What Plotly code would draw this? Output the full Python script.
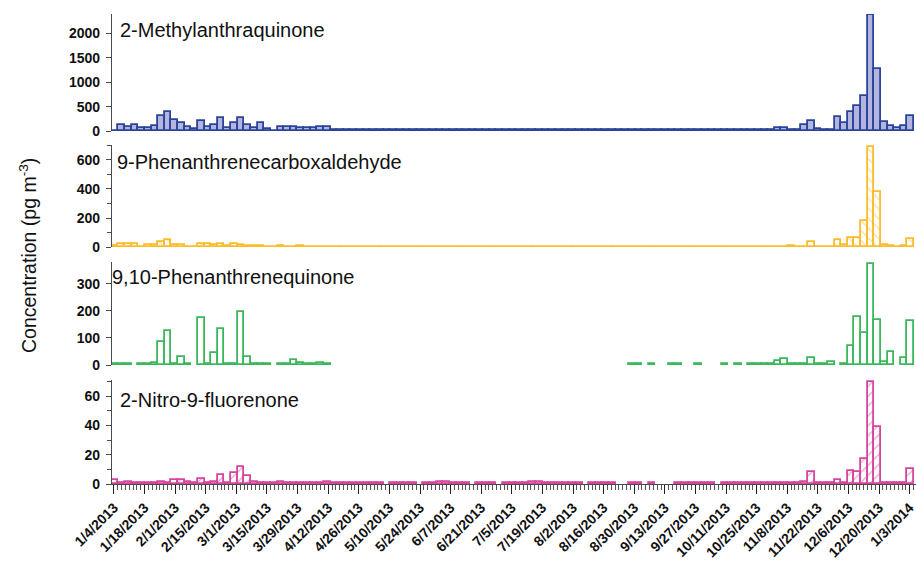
import pandas as pd
import plotly.graph_objects as go
from plotly.subplots import make_subplots

# Filter samples: 121 collections between 1/4/2013 and 1/3/2014
sample_first = "2013-01-04 12:00"
sample_last = "2014-01-03 12:00"
n_samples = 121
dates = pd.date_range(sample_first, sample_last, periods=n_samples)

N = None

# 2-Methylanthraquinone (pg m-3)
maq = [
    10, 130, 89, 130, 60, 60, 100, 308, 390, 226,
    158, 89, 35, 199, 89, 130, 260, 68, 171, 260,
    117, 68, 171, 50, 7, 80, 72, 76, 62, 66,
    62, 75, 82, 15, 15, 15, 15, 15, 15, 15,
    15, 15, 15, 15, 15, 15, 15, 15, 15, 15,
    15, 15, 15, 15, 15, 15, 15, 15, 15, 15,
    15, 15, 15, 15, 15, 15, 15, 15, 15, 15,
    15, 15, 15, 15, 15, 15, 15, 15, 15, 15,
    15, 15, 15, 15, 15, 15, 15, 15, 15, 15,
    15, 15, 15, 15, 15, 15, 15, 15, 15, 15,
    68, 68, 15, 15, 123, 212, 35, 15, 15, 294,
    171, 384, 513, 726, 2382, 1267, 185, 109, 68, 96,
    308,
]

# 9-Phenanthrenecarboxaldehyde (pg m-3)
pca = [
    12, 20, 20, 20, 5, 14, 14, 38, 52, 16,
    14, 3, 3, 20, 20, 14, 25, 9, 25, 14,
    9, 9, 9, 3, 5, 7, 3, 3, 7, 3,
    3, 3, 3, 2, 2, 2, 2, 2, 2, 2,
    2, 2, 2, 2, 2, 2, 2, 2, 2, 2,
    2, 2, 2, 2, 2, 2, 2, 2, 2, 2,
    2, 2, 2, 2, 2, 2, 2, 2, 2, 2,
    2, 2, 2, 2, 2, 2, 2, 2, 2, 2,
    2, 2, 2, 2, 2, 2, 2, 2, 2, 2,
    2, 2, 2, 2, 2, 2, 2, 2, 2, 2,
    2, 2, 6, 2, 3, 38, 2, 2, 2, 50,
    16, 66, 62, 180, 689, 381, 16, 9, 3, 9,
    57,
]

# 9,10-Phenanthrenequinone (pg m-3); None = no measurement
pq = [
    5, 5, 5, N, 5, 5, 8, 84, 126, 5,
    28, 5, N, 175, 5, 46, 133, 5, 5, 195,
    31, 5, 5, 3, N, 3, 3, 19, 6, 3,
    3, 6, 3, N, N, N, N, N, N, N,
    N, N, N, N, N, N, N, N, N, N,
    N, N, N, N, N, N, N, N, N, N,
    N, N, N, N, N, N, N, N, N, N,
    N, N, N, N, N, N, N, N, 2, 2,
    N, 2, N, N, 2, 2, N, N, 2, N,
    N, N, 2, N, 2, N, 2, 2, 2, 2,
    15, 22, 4, 2, 2, 27, 2, 2, 10, N,
    2, 72, 178, 120, 373, 167, 12, 49, N, 27,
    163,
]

# 2-Nitro-9-fluorenone (pg m-3); None = no measurement
nfn = [
    2.9, 0.5, 1.6, 0.5, 0.5, 0.5, 0.5, 1.1, 0.5, 2.7,
    2.7, 1.6, 0.5, 3.4, 0.5, 1.6, 6.2, 0.5, 7.5, 11.6,
    5.7, 1.1, 0.5, 0.5, 0.5, 1.6, 0.5, 0.5, 0.5, 0.5,
    0.5, 0.5, 1.1, 0.5, 0.5, 0.5, 0.5, 0.5, 0.5, 0.5,
    0.5, N, 0.5, 0.5, 0.5, 0.5, N, 0.5, 0.5, 1.3,
    1.3, 0.5, 0.5, 0.5, N, 0.5, 0.5, 0.5, N, 0.5,
    0.5, 0.5, 0.5, 1.3, 1.3, 0.5, 0.5, 0.5, 0.5, 0.5,
    0.5, N, 0.5, 0.5, 0.5, 0.5, N, N, 0.5, 0.5,
    N, 0.5, N, N, N, 0.5, 0.5, 0.5, 0.5, 0.5,
    0.5, N, 0.5, 0.5, 0.5, 0.5, 0.5, 0.5, 0.5, 0.5,
    0.5, 0.5, 0.5, 0.5, 1.6, 8.4, 0.5, 0.5, 0.5, 2.9,
    0.5, 9.1, 7.9, 17.1, 69.6, 38.8, 0.7, 0.5, 0.5, 0.5,
    10.3,
]

compound_names = [
    "2-Methylanthraquinone",
    "9-Phenanthrenecarboxaldehyde",
    "9,10-Phenanthrenequinone",
    "2-Nitro-9-fluorenone",
]

tick_labels = [
    "1/4/2013", "1/18/2013", "2/1/2013", "2/15/2013", "3/1/2013", "3/15/2013",
    "3/29/2013", "4/12/2013", "4/26/2013", "5/10/2013", "5/24/2013", "6/7/2013",
    "6/21/2013", "7/5/2013", "7/19/2013", "8/2/2013", "8/16/2013", "8/30/2013",
    "9/13/2013", "9/27/2013", "10/11/2013", "10/25/2013", "11/8/2013",
    "11/22/2013", "12/6/2013", "12/20/2013", "1/3/2014",
]
tick_dates = pd.to_datetime(tick_labels, format="%m/%d/%Y")

# ---- styling ----
W, H = 916, 561
ML, MR, MT, MB = 112, 0, 14, 77
plot_h = H - MT - MB
plot_w = W - ML - MR
DAY_MS = 86400000
bar_width = (dates[1] - dates[0]).total_seconds() * 1000

FONT = "Liberation Sans, Arial, sans-serif"
AXIS_GREY = "#4a4a4a"


def fy(px):
    return (H - MB - px) / plot_h


def fx(px):
    return (px - ML) / plot_w


# panel pixel extents (top, bottom) and per-panel styles
panels = [
    dict(vals=maq, top=14, bottom=131, rng=[0, 2402], dtick=500, minor=None,
         edge="#2b449b", fill="#b3b5de", pattern=None),
    dict(vals=pca, top=145, bottom=247.3, rng=[0, 700], dtick=200, minor=100,
         edge="#fdbc2c", fill="#ffffff", pattern="\\"),
    dict(vals=pq, top=262, bottom=365, rng=[0, 381], dtick=100, minor=None,
         edge="#3bb85c", fill="#ffffff", pattern=None),
    dict(vals=nfn, top=380, bottom=484, rng=[0, 71], dtick=20, minor=10,
         edge="#d6469e", fill="#ffffff", pattern="/"),
]
title_pos = [(118, 30), (115, 162), (110, 277), (118, 400)]

fig = make_subplots(rows=4, cols=1, shared_xaxes=True, vertical_spacing=0.02)

for i, p in enumerate(panels):
    marker = dict(color=p["fill"], line=dict(color=p["edge"], width=1.8))
    if p["pattern"]:
        marker["pattern"] = dict(shape=p["pattern"], fgcolor=p["edge"],
                                 bgcolor="#ffffff", size=7, solidity=0.18)
    fig.add_trace(
        go.Bar(x=dates, y=p["vals"], width=bar_width, marker=marker,
               showlegend=False, hoverinfo="x+y"),
        row=i + 1, col=1,
    )
    yax = dict(
        domain=[fy(p["bottom"]), fy(p["top"])],
        range=p["rng"], dtick=p["dtick"], tick0=0,
        showgrid=False, zeroline=False,
        showline=True, linecolor=AXIS_GREY, linewidth=1.3,
        ticks="outside", ticklen=5, tickwidth=1.2, tickcolor=AXIS_GREY,
        ticklabelstandoff=3,
        tickfont=dict(family=FONT, size=14, color="#111111", weight="bold"),
    )
    if p["minor"]:
        yax["minor"] = dict(ticks="outside", ticklen=4, tickwidth=1.2,
                            tickcolor=AXIS_GREY, dtick=p["minor"], tick0=0,
                            showgrid=False)
    fig.update_yaxes(row=i + 1, col=1, **yax)

x_start = pd.Timestamp("2013-01-04") - pd.Timedelta(days=0.9)
x_end = x_start + pd.Timedelta(days=plot_w / 2.186)

fig.update_xaxes(type="date", range=[x_start, x_end], showgrid=False,
                 zeroline=False)
for r in (1, 2, 3):
    fig.update_xaxes(row=r, col=1, showticklabels=False, ticks="",
                     showline=False)
fig.update_xaxes(
    row=4, col=1,
    tickmode="array", tickvals=tick_dates, ticktext=tick_labels,
    tickangle=-45, ticks="outside", ticklen=9, tickwidth=1.2,
    tickcolor="#222222", showline=True, linecolor=AXIS_GREY, linewidth=1,
    ticklabeloverflow="allow",
    tickfont=dict(family=FONT, size=14, color="#111111", weight="bold"),
    minor=dict(ticks="outside", ticklen=5, tickwidth=1, tickcolor="#555555",
               dtick=1.75 * DAY_MS, tick0="2013-01-04", showgrid=False),
)

annotations = []
for name, (px_x, px_y) in zip(compound_names, title_pos):
    annotations.append(dict(
        text=name, xref="paper", yref="paper", x=fx(px_x), y=fy(px_y),
        xanchor="left", yanchor="middle", showarrow=False,
        font=dict(family=FONT, size=20, color="#111111"),
    ))
annotations.append(dict(
    text="Concentration (pg m<sup>-3</sup>)", xref="paper", yref="paper",
    x=fx(28), y=fy(256), xanchor="center", yanchor="middle",
    textangle=-90, showarrow=False,
    font=dict(family=FONT, size=19.5, color="#111111"),
))

fig.update_layout(
    width=W, height=H,
    margin=dict(l=ML, r=MR, t=MT, b=MB, autoexpand=False),
    paper_bgcolor="#ffffff", plot_bgcolor="#ffffff",
    barmode="overlay", bargap=0,
    annotations=annotations,
)

fig.write_html("out.html")
